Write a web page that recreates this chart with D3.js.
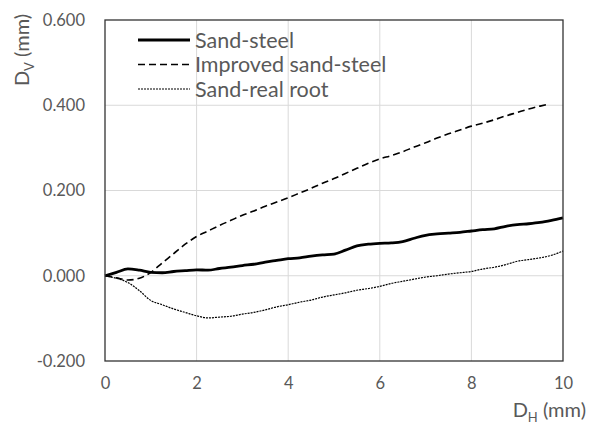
<!DOCTYPE html>
<html>
<head>
<meta charset="utf-8">
<script src="https://cdn.jsdelivr.net/npm/d3@7"></script>
<style>
  html, body { margin: 0; padding: 0; background: #fff; }
  svg { display: block; }
  text { font-family: Lato, "Open Sans", sans-serif; fill: #595959; }
</style>
</head>
<body>
<svg id="chart" width="589" height="427"></svg>
<script>
// Horizontal displacement D_H (mm) sample points
const dh = [0, 0.25, 0.5, 0.75, 1, 1.25, 1.5, 1.75, 2, 2.25, 2.5, 2.75, 3, 3.25, 3.5, 3.75,
            4, 4.25, 4.5, 4.75, 5, 5.25, 5.5, 5.75, 6, 6.25, 6.5, 6.75, 7, 7.25, 7.5, 7.75,
            8, 8.25, 8.5, 8.75, 9, 9.25, 9.5, 9.75, 10];
const dhImproved = [0, 0.25, 0.5, 0.75, 1, 1.25, 1.5, 1.75, 2, 2.25, 2.5, 2.75, 3, 3.25, 3.5, 3.75,
            4, 4.25, 4.5, 4.75, 5, 5.25, 5.5, 5.75, 6, 6.25, 6.5, 6.75, 7, 7.25, 7.5, 7.75,
            8, 8.25, 8.5, 8.75, 9, 9.25, 9.5, 9.7];

// Vertical displacement D_V (mm)
const sandSteel = [0, 0.008, 0.016, 0.013, 0.008, 0.007, 0.010, 0.012, 0.014, 0.013, 0.017, 0.020,
            0.024, 0.027, 0.032, 0.036, 0.040, 0.042, 0.046, 0.049, 0.051, 0.060, 0.070, 0.074,
            0.076, 0.077, 0.080, 0.088, 0.095, 0.098, 0.100, 0.102, 0.105, 0.108, 0.110, 0.116,
            0.120, 0.122, 0.125, 0.130, 0.136];
const improvedSandSteel = [0, -0.005, -0.010, -0.006, 0.008, 0.030, 0.052, 0.074, 0.092, 0.105,
            0.118, 0.130, 0.142, 0.152, 0.163, 0.173, 0.183, 0.194, 0.205, 0.217, 0.228, 0.240,
            0.252, 0.264, 0.274, 0.282, 0.291, 0.302, 0.312, 0.323, 0.333, 0.342, 0.351, 0.358,
            0.366, 0.375, 0.383, 0.391, 0.398, 0.403];
const sandRealRoot = [0, -0.006, -0.016, -0.035, -0.058, -0.068, -0.078, -0.086, -0.094, -0.099,
            -0.097, -0.095, -0.090, -0.086, -0.080, -0.073, -0.068, -0.062, -0.057, -0.050, -0.045,
            -0.040, -0.034, -0.030, -0.025, -0.018, -0.013, -0.008, -0.003, 0.000, 0.004, 0.007,
            0.010, 0.016, 0.020, 0.026, 0.034, 0.038, 0.042, 0.048, 0.058];

const seriesNames = ["Sand-steel", "Improved sand-steel", "Sand-real root"];
const xTicks = [0, 2, 4, 6, 8, 10];
const yTicks = [-0.2, 0, 0.2, 0.4, 0.6];

const series = [
  { name: seriesNames[0], x: dh, y: sandSteel, width: 2.8, dash: null },
  { name: seriesNames[1], x: dhImproved, y: improvedSandSteel, width: 1.6, dash: "7,4" },
  { name: seriesNames[2], x: dh, y: sandRealRoot, width: 1.2, dash: "2,1" }
];

const svg = d3.select("#chart");
const m = { left: 105, top: 20, right: 26, bottom: 66 };
const W = 589 - m.left - m.right;
const H = 427 - m.top - m.bottom;

const x = d3.scaleLinear().domain([0, 10]).range([m.left, m.left + W]);
const y = d3.scaleLinear().domain([-0.2, 0.6]).range([m.top + H, m.top]);

// gridlines
const grid = svg.append("g");
grid.selectAll(".vg").data(xTicks.slice(1, -1)).enter().append("line")
  .attr("x1", d => x(d)).attr("x2", d => x(d))
  .attr("y1", m.top).attr("y2", m.top + H)
  .attr("stroke", "#d9d9d9").attr("stroke-width", 1);
grid.selectAll(".hg").data(yTicks.slice(1, -1)).enter().append("line")
  .attr("x1", m.left).attr("x2", m.left + W)
  .attr("y1", d => y(d)).attr("y2", d => y(d))
  .attr("stroke", "#d9d9d9").attr("stroke-width", 1);

// axes (labels only; the frame is drawn separately)
const fmt3 = d3.format(".3f");
const xAxis = d3.axisBottom(x).tickValues(xTicks).tickSize(0).tickPadding(16)
  .tickFormat(d3.format("d"));
const yAxis = d3.axisLeft(y).tickValues(yTicks).tickSize(0).tickPadding(20)
  .tickFormat(d => fmt3(d).replace("\u2212", "-"));

const gx = svg.append("g").attr("transform", `translate(0,${m.top + H})`).call(xAxis);
const gy = svg.append("g").attr("transform", `translate(${m.left},0)`).call(yAxis);
[gx, gy].forEach(g => {
  g.select(".domain").remove();
  g.selectAll("text").style("font-size", "16.5px").attr("fill", "#595959");
});

// data lines
const line = d3.line().curve(d3.curveMonotoneX);
series.forEach(s => {
  const pts = s.x.map((v, i) => [x(v), y(s.y[i])]);
  svg.append("path")
    .attr("d", line(pts))
    .attr("fill", "none")
    .attr("stroke", "#000")
    .attr("stroke-width", s.width)
    .attr("stroke-dasharray", s.dash);
});

// plot frame
svg.append("rect")
  .attr("x", m.left).attr("y", m.top).attr("width", W).attr("height", H)
  .attr("fill", "none").attr("stroke", "#333").attr("stroke-width", 1.3);

// legend
const lg = svg.append("g");
series.forEach((s, i) => {
  const ly = 40 + i * 24.5;
  lg.append("line")
    .attr("x1", 138).attr("x2", 190).attr("y1", ly).attr("y2", ly)
    .attr("stroke", "#000").attr("stroke-width", s.width)
    .attr("stroke-dasharray", s.dash);
  lg.append("text").attr("x", 195).attr("y", ly).attr("dy", "0.36em")
    .style("font-size", "21.5px").text(s.name);
});

// axis titles
const yt = svg.append("text")
  .attr("transform", "translate(29,50) rotate(-90)")
  .attr("text-anchor", "middle")
  .style("font-size", "20px");
yt.append("tspan").text("D");
yt.append("tspan").attr("dy", 5).style("font-size", "13px").text("V");
yt.append("tspan").attr("dy", -5).text(" (mm)");

const xt = svg.append("text")
  .attr("x", 586).attr("y", 417)
  .attr("text-anchor", "end")
  .style("font-size", "20px");
xt.append("tspan").text("D");
xt.append("tspan").attr("dy", 5).style("font-size", "13px").text("H");
xt.append("tspan").attr("dy", -5).text(" (mm)");
</script>
</body>
</html>
